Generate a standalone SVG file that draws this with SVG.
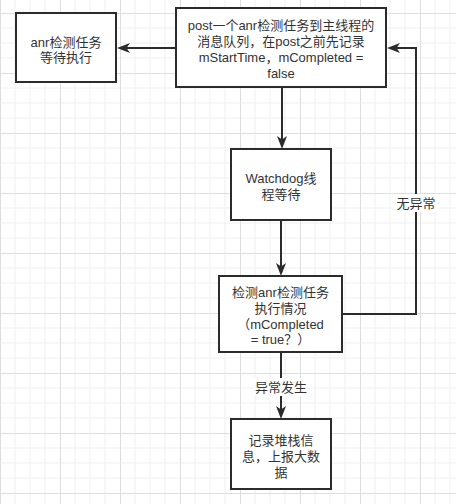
<svg xmlns="http://www.w3.org/2000/svg" width="456" height="504" viewBox="0 0 456 504">
<style>
.box{fill:#ffffff;stroke:#2b2b2b;stroke-width:2}
.t{font-family:"Liberation Sans","Noto Sans CJK SC",sans-serif;font-size:13px;fill:#333333;text-anchor:middle}
.c{fill:none;stroke:#2b2b2b;stroke-width:2}
.lbl{fill:#ffffff}
</style>
<defs>
<pattern id="grid" x="0" y="13" width="60" height="60" patternUnits="userSpaceOnUse">
<path d="M15,0V60M30,0V60M45,0V60M0,15H60M0,30H60M0,45H60" stroke="#efefef" stroke-width="1" fill="none"/>
<path d="M0.5,0V60M0,0.5H60" stroke="#dedede" stroke-width="1" fill="none"/>
</pattern>
<marker id="arr" viewBox="0 0 13 10" refX="9" refY="5" markerWidth="13" markerHeight="10" markerUnits="userSpaceOnUse" orient="auto">
<path d="M0,0L13,5L0,10L3.5,5z" fill="#2b2b2b"/>
</marker>
</defs>
<rect width="456" height="504" fill="#ffffff"/>
<rect width="456" height="504" fill="url(#grid)"/>
<g id="connectors">
<path class="c" d="M176,48H121" marker-end="url(#arr)"/>
<path class="c" d="M282,87V145" marker-end="url(#arr)"/>
<path class="c" d="M281,220V272" marker-end="url(#arr)"/>
<path class="c" d="M281,352V415" marker-end="url(#arr)"/>
<path class="c" d="M342,314H416V48H391" marker-end="url(#arr)"/>
<rect class="lbl" x="393" y="194" width="46" height="18"/>
<text class="t" x="416" y="208">无异常</text>
<rect class="lbl" x="253" y="378" width="56" height="18"/>
<text class="t" x="281" y="392">异常发生</text>
</g>
<g id="node-wait">
<rect class="box" x="16" y="13" width="100" height="69"/>
<text class="t" x="66" y="46.5">anr检测任务</text>
<text class="t" x="66" y="62">等待执行</text>
</g>
<g id="node-post">
<rect class="box" x="176" y="8" width="210" height="79"/>
<text class="t" x="281" y="30">post一个anr检测任务到主线程的</text>
<text class="t" x="281" y="46">消息队列，在post之前先记录</text>
<text class="t" x="281" y="62">mStartTime，mCompleted =</text>
<text class="t" x="281" y="78">false</text>
</g>
<g id="node-watchdog">
<rect class="box" x="231" y="149" width="100" height="71"/>
<text class="t" x="281" y="183">Watchdog线</text>
<text class="t" x="281" y="199">程等待</text>
</g>
<g id="node-check">
<rect class="box" x="219" y="276" width="123" height="76"/>
<text class="t" x="280.5" y="297">检测anr检测任务</text>
<text class="t" x="280.5" y="313">执行情况</text>
<text class="t" x="280.5" y="328.5">（mCompleted</text>
<text class="t" x="280.5" y="344">= true？）</text>
</g>
<g id="node-record">
<rect class="box" x="231" y="419" width="100" height="70"/>
<text class="t" x="281" y="445">记录堆栈信</text>
<text class="t" x="281" y="461">息，上报大数</text>
<text class="t" x="281" y="476.5">据</text>
</g>
</svg>
